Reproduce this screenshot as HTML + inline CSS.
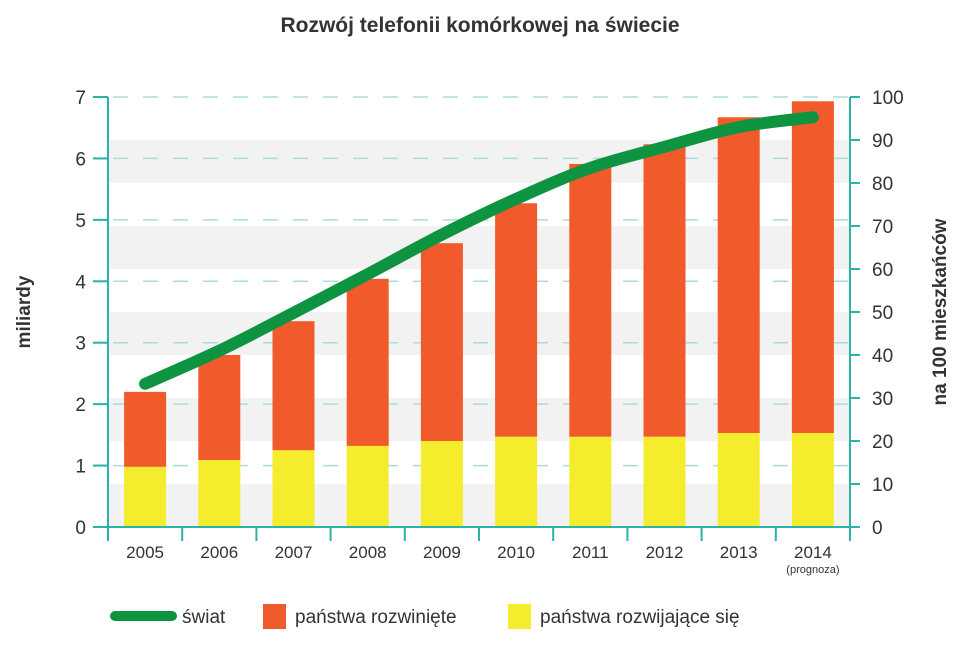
<!DOCTYPE html>
<html><head><meta charset="utf-8"><style>
body{margin:0;background:#fff;font-family:"Liberation Sans",sans-serif}
</style></head><body>
<svg id="chart" width="960" height="641" xmlns="http://www.w3.org/2000/svg" font-family="Liberation Sans, sans-serif">
<text x="480" y="32" text-anchor="middle" font-size="21" font-weight="bold" fill="#333">Rozwój telefonii komórkowej na świecie</text>
<g id="bands"></g><g id="grid"></g><g id="bars"></g><g id="line"></g><g id="axes"></g>
<text transform="translate(30,312) rotate(-90)" text-anchor="middle" font-size="19" font-weight="bold" fill="#333">miliardy</text>
<text transform="translate(946,312) rotate(-90)" text-anchor="middle" font-size="19" font-weight="bold" fill="#333">na 100 mieszkańców</text>
<g>
<line x1="115" y1="616" x2="172" y2="616" stroke="#0e9441" stroke-width="10" stroke-linecap="round"/>
<text x="182" y="623" font-size="19" fill="#333">świat</text>
<rect x="263" y="604" width="23" height="25" fill="#f15a2b"/>
<text x="295" y="623" font-size="19" fill="#333">państwa rozwinięte</text>
<rect x="508" y="604" width="23" height="25" fill="#f5ec2e"/>
<text x="540" y="623" font-size="19" fill="#333">państwa rozwijające się</text>
</g>
</svg>
<script>
const categories=["2005","2006","2007","2008","2009","2010","2011","2012","2013","2014"];
const developing=[0.98,1.09,1.25,1.32,1.40,1.47,1.47,1.47,1.53,1.53];
const developed=[1.22,1.71,2.10,2.72,3.22,3.80,4.44,4.76,5.14,5.40];
const world=[33.3,41,49.8,58.8,68,76.3,83.5,88.4,93,95.3];
const leftTicks=[0,1,2,3,4,5,6,7];
const rightTicks=[0,10,20,30,40,50,60,70,80,90,100];
const NS="http://www.w3.org/2000/svg";
const X0=108,X1=850,Y0=527,Y1=97;
const bw=(X1-X0)/categories.length;
const yL=v=>Y0-(v/7)*(Y0-Y1);
const yR=v=>Y0-(v/100)*(Y0-Y1);
const xC=i=>X0+bw*(i+0.5);
function mk(p,t,a){const e=document.createElementNS(NS,t);for(const k in a)e.setAttribute(k,a[k]);document.getElementById(p).appendChild(e);return e;}
for(let b=0;b<7;b+=1.4){const e=mk("bands","rect",{x:X0,y:yL(b+0.7),width:X1-X0,height:yL(b)-yL(b+0.7),fill:"#f2f2f2"});

}
leftTicks.forEach(v=>{if(v>0){const e=mk("grid","line",{x1:X0,x2:X1,y1:yL(v),y2:yL(v),stroke:"#a8ddd8","stroke-width":1.5,"stroke-dasharray":"15,15","stroke-dashoffset":"-5"});

}
const t=mk("axes","line",{x1:X0-15,x2:X0,y1:yL(v),y2:yL(v),stroke:"#2bb3a8","stroke-width":2});


const l=mk("axes","text",{x:X0-22,y:yL(v)+7,"text-anchor":"end","font-size":19,fill:"#333"});l.textContent=v;

});
rightTicks.forEach(v=>{const t=mk("axes","line",{x1:X1,x2:X1+10,y1:yR(v),y2:yR(v),stroke:"#2bb3a8","stroke-width":2});


const l=mk("axes","text",{x:X1+22,y:yR(v)+7,"font-size":19,fill:"#333"});l.textContent=v;

});
categories.forEach((c,i)=>{const x=xC(i)-21;
const y=mk("bars","rect",{x:x,y:yL(developing[i]),width:42,height:Y0-yL(developing[i]),fill:"#f5ec2e"});


const top=developing[i]+developed[i];
const o=mk("bars","rect",{x:x,y:yL(top),width:42,height:yL(developing[i])-yL(top),fill:"#f15a2b"});


const l=mk("axes","text",{x:xC(i),y:558,"text-anchor":"middle","font-size":17,fill:"#333"});l.textContent=c;

});
const n=mk("axes","text",{x:xC(9),y:573,"text-anchor":"middle","font-size":11,fill:"#333"});n.textContent="(prognoza)";


for(let i=0;i<=categories.length;i++){const t=mk("axes","line",{x1:X0+bw*i,x2:X0+bw*i,y1:Y0,y2:Y0+14,stroke:"#2bb3a8","stroke-width":2});

}
const ax=mk("axes","path",{d:`M${X0},${Y1}V${Y0}H${X1}V${Y1}`,fill:"none",stroke:"#2bb3a8","stroke-width":2});


const pts=world.map((v,i)=>[xC(i),yR(v)]);
let d="M"+pts[0].join(",");
for(let i=1;i<pts.length;i++){const p0=pts[i-2]||pts[i-1],p1=pts[i-1],p2=pts[i],p3=pts[i+1]||p2;
d+=` C${p1[0]+(p2[0]-p0[0])/6},${p1[1]+(p2[1]-p0[1])/6} ${p2[0]-(p3[0]-p1[0])/6},${p2[1]-(p3[1]-p1[1])/6} ${p2[0]},${p2[1]}`;}
const ln=mk("line","path",{d:d,fill:"none",stroke:"#0e9441","stroke-width":12,"stroke-linecap":"round"});


</script>
</body></html>
